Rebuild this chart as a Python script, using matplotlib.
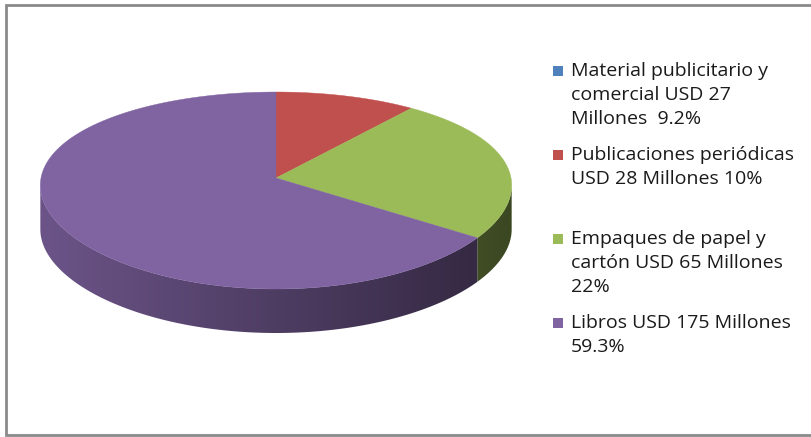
import numpy as np
import matplotlib.pyplot as plt
from matplotlib.patches import Polygon, Rectangle
from matplotlib.colors import to_rgb

# series of the pie (the first category has no visible slice)
categorias = [
    ["Material publicitario y", "comercial USD 27", "Millones  9.2%"],
    ["Publicaciones periódicas", "USD 28 Millones 10%"],
    ["Empaques de papel y", "cartón USD 65 Millones", "22%"],
    ["Libros USD 175 Millones", "59.3%"],
]
valores = [0, 28, 65, 175]
colores = ["#4F81BD", "#C0504D", "#9BBB59", "#8064A2"]

fig = plt.figure(figsize=(8.11, 4.37), dpi=100)
ax = fig.add_axes([0, 0, 1, 1])
ax.set_xlim(0, 811)
ax.set_ylim(437, 0)
ax.axis("off")

# chart area border
ax.plot([811, 6, 6, 811], [4.5, 4.5, 435, 435], color="#8a8a8a", lw=2,
        solid_joinstyle="miter")

# tilted pie seen in perspective: centre, radii and wall height
cx, cy = 276, 178
rx, ry = 235, 96.9
px, py = 0.075, 0.127
depth = 44


def punto(t):
    # t in degrees, clockwise from 12 o'clock
    r = np.radians(t)
    u, w = np.sin(r), np.cos(r)
    return cx + rx * u / (1 + px * w), cy - ry * w / (1 + py * w)


def degradado(color):
    # side walls get darker from left to right
    f = np.linspace(0.84, 0.38, 256)
    rgb = np.array(to_rgb(color))
    return (f[:, None] * rgb[None, :])[None, :, :]


# silhouette: the wall shows between the rightmost and leftmost points
rejilla = np.linspace(0, 360, 3601)
xs = np.array([punto(t)[0] for t in rejilla])
t_der, t_izq = rejilla[np.argmax(xs)], rejilla[np.argmin(xs)]

total = sum(valores)
bordes = np.concatenate([[0], np.cumsum(valores) / total * 360])

# outer walls
for v, col, a0, a1 in zip(valores, colores, bordes[:-1], bordes[1:]):
    lo, hi = max(a0, t_der), min(a1, t_izq)
    if v == 0 or hi <= lo:
        continue
    ts = np.linspace(lo, hi, int((hi - lo) / 0.5) + 2)
    arriba = [punto(t) for t in ts]
    abajo = [(x, y + depth) for x, y in arriba[::-1]]
    pared = Polygon(arriba + abajo, closed=True, facecolor="none", edgecolor="none")
    ax.add_patch(pared)
    im = ax.imshow(degradado(col), extent=(xs.min(), xs.max(), 340, 170),
                   aspect="auto", interpolation="bilinear", zorder=1)
    im.set_clip_path(pared)

# top faces
for v, col, a0, a1 in zip(valores, colores, bordes[:-1], bordes[1:]):
    if v == 0:
        continue
    ts = np.linspace(a0, a1, int((a1 - a0) / 0.5) + 2)
    pts = [(cx, cy)] + [punto(t) for t in ts]
    ax.add_patch(Polygon(pts, closed=True, facecolor=col, edgecolor=col, lw=0.3, zorder=2))

ax.set_xlim(0, 811)
ax.set_ylim(437, 0)

# legend
for i, (lineas, col) in enumerate(zip(categorias, colores)):
    y0 = 71 + 84 * i
    ax.add_patch(Rectangle((553, y0 - 5), 10, 10, facecolor=col, edgecolor="none"))
    for j, txt in enumerate(lineas):
        ax.text(571, y0 + 24 * j, txt, fontsize=14, family="Open Sans",
                color="#1a1a1a", va="center", ha="left")

fig.savefig("out.png", dpi=100)
